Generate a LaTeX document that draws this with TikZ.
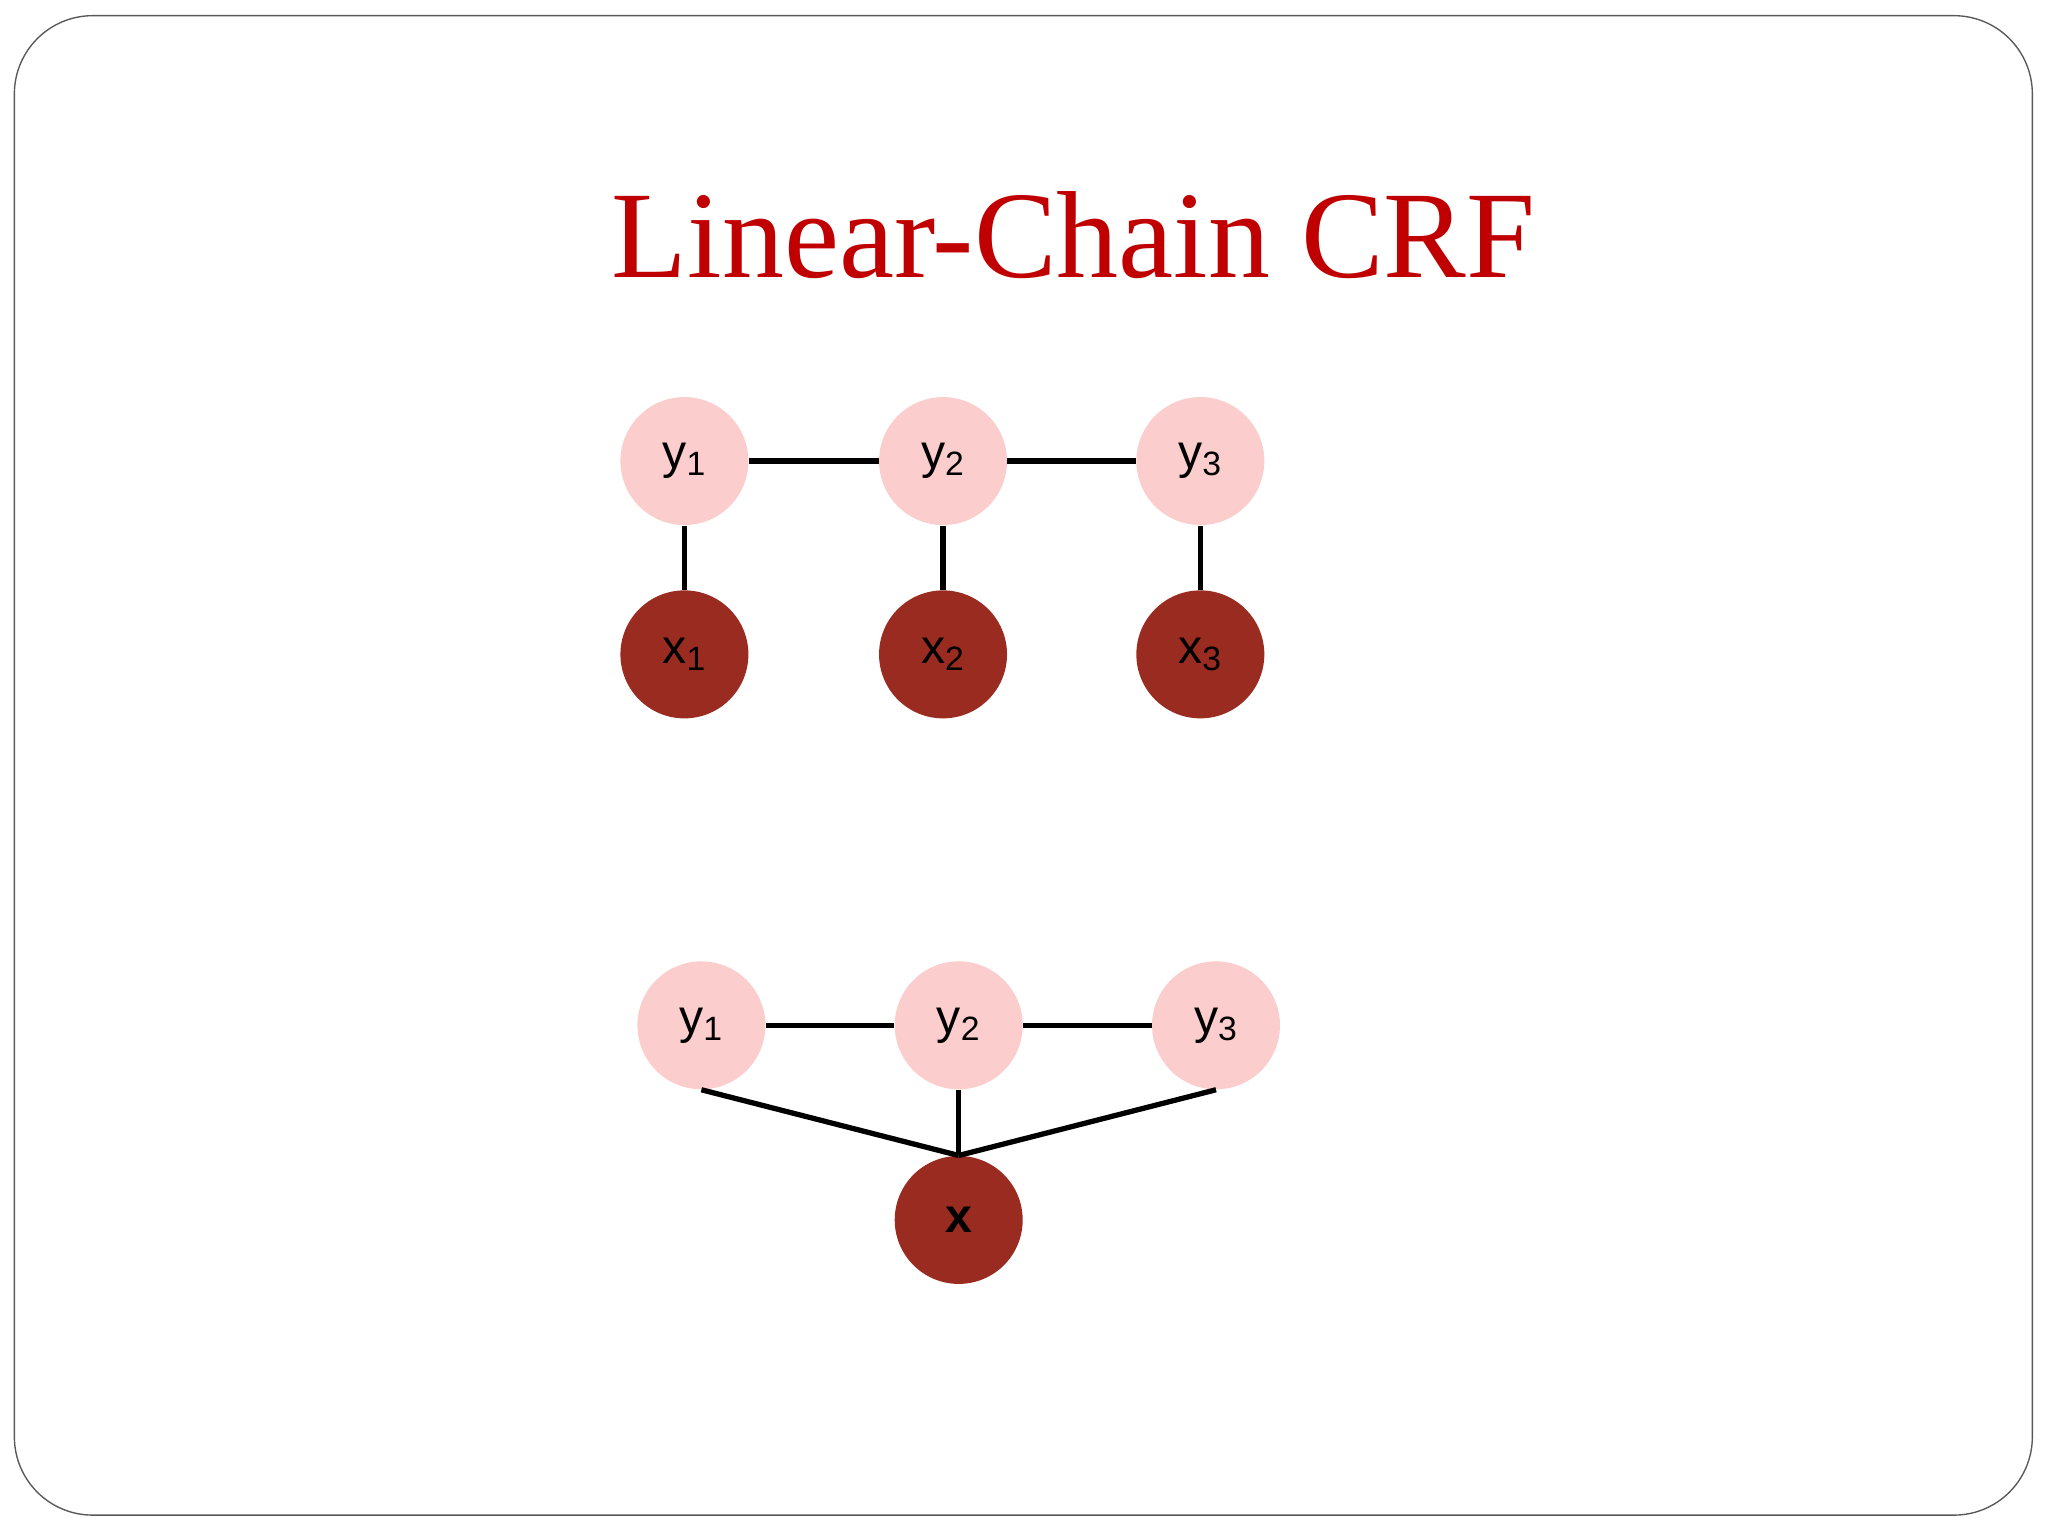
\documentclass[tikz,border=0pt]{standalone}
\usepackage{fontspec}
\setmainfont{Liberation Serif}
\newfontfamily\nodefont{Liberation Sans}
\usetikzlibrary{positioning}
\definecolor{ypink}{RGB}{252,205,205}
\definecolor{xbrown}{RGB}{153,43,32}
\definecolor{titlered}{RGB}{192,0,0}
\begin{document}
\begin{tikzpicture}[x=0.02cm,y=-0.02cm]
\tikzset{
  latent/.style={circle,fill=ypink,minimum size=1.96cm,inner sep=0pt,font=\nodefont\fontsize{21}{24}\selectfont},
  observed/.style={circle,fill=xbrown,minimum size=1.96cm,inner sep=0pt,font=\nodefont\fontsize{21}{24}\selectfont},
  edge/.style={line width=2.3pt,black}
}
\useasboundingbox (0,0) rectangle (1568,1176);
\draw[gray!70!black,line width=0.6pt,rounded corners=1.2cm] (11,12) rectangle (1556,1160);
\node[text=titlered,font=\fontsize{54}{60}\selectfont] (title) at (822,180) {Linear-Chain CRF};
% upper chain
\node[latent] (ya) at (524,353) {y\textsubscript{1}};
\node[latent] (yb) at (722,353) {y\textsubscript{2}};
\node[latent] (yc) at (919,353) {y\textsubscript{3}};
\node[observed] (xa) at (524,501) {x\textsubscript{1}};
\node[observed] (xb) at (722,501) {x\textsubscript{2}};
\node[observed] (xc) at (919,501) {x\textsubscript{3}};
\draw[edge] (ya) -- (yb);
\draw[edge] (yb) -- (yc);
\draw[edge] (ya) -- (xa);
\draw[edge] (yb) -- (xb);
\draw[edge] (yc) -- (xc);
% lower chain
\node[latent] (ua) at (537,785) {y\textsubscript{1}};
\node[latent] (ub) at (734,785) {y\textsubscript{2}};
\node[latent] (uc) at (931,785) {y\textsubscript{3}};
\node[observed] (xx) at (734,934) {\textbf{x}};
\draw[edge] (ua) -- (ub);
\draw[edge] (ub) -- (uc);
\draw[edge] (ua.south) -- (xx.north);
\draw[edge] (ub) -- (xx.north);
\draw[edge] (uc.south) -- (xx.north);
\end{tikzpicture}
\end{document}
